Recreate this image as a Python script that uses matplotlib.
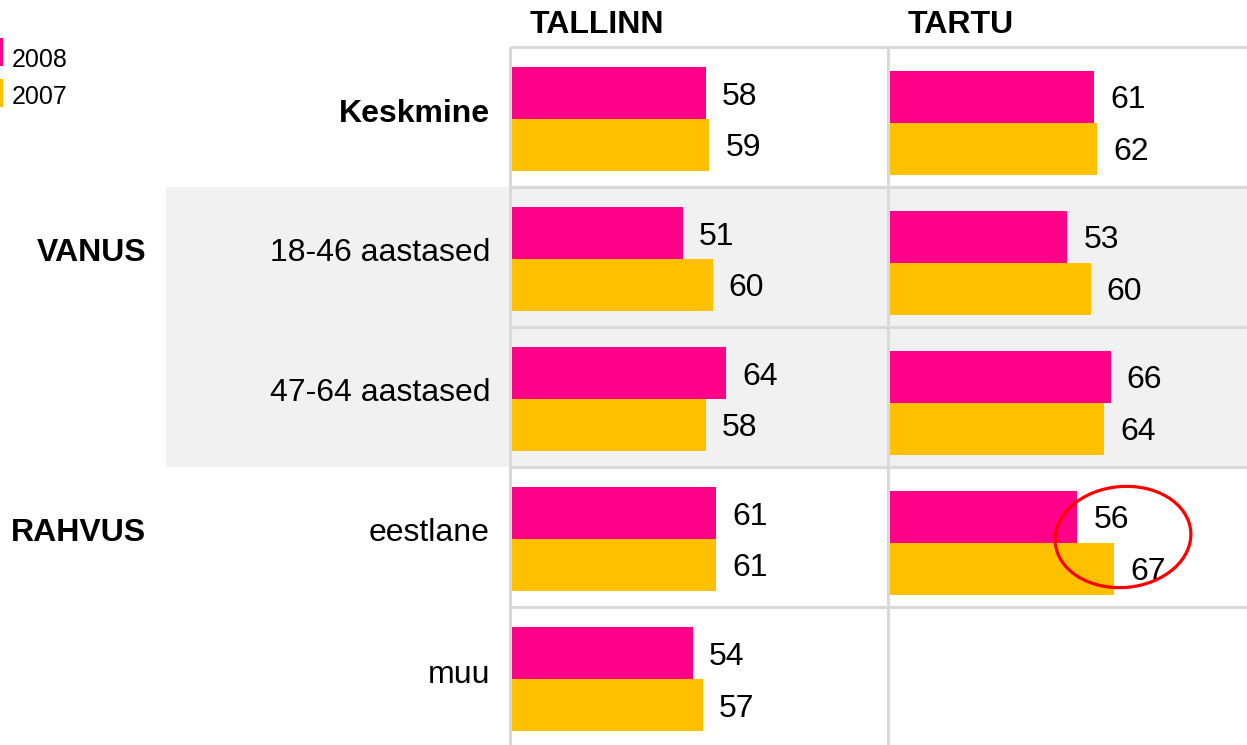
import matplotlib
matplotlib.use("Agg")
import matplotlib.pyplot as plt
from matplotlib.patches import Rectangle, Ellipse
import numpy as np

plt.rcParams['font.family'] = ['Liberation Sans', 'DejaVu Sans']

# data
kategooriad = ["Keskmine", "18-46 aastased", "47-64 aastased", "eestlane", "muu"]
tallinn_2008 = [58, 51, 64, 61, 54]
tallinn_2007 = [59, 60, 58, 61, 57]
tartu_2008 = [61, 53, 66, 56, None]
tartu_2007 = [62, 60, 64, 67, None]
aastad = ["2008", "2007"]
linnad = ["TALLINN", "TARTU"]

roosa = "#FF0088"
kollane = "#FFC000"
joon = "#D9D9D9"
fs = 23

W, H = 1247, 745
fig = plt.figure(figsize=(W / 100, H / 100), dpi=100)

# taust pikslites
bg = fig.add_axes([0, 0, 1, 1])
bg.set_xlim(0, W)
bg.set_ylim(H, 0)
bg.axis("off")
bg.add_patch(Rectangle((166, 187), W - 166, 280, color="#F1F1F1", lw=0, zorder=0))
bg.hlines([47, 187, 327, 467, 607], 510, W, color=joon, lw=2.2, zorder=1)
bg.vlines([510, 888], 47, H, color=joon, lw=2.2, zorder=1)

# legend
bg.add_patch(Rectangle((0, 38), 3, 28, color=roosa, lw=0))
bg.add_patch(Rectangle((0, 79), 3, 28, color=kollane, lw=0))
bg.text(12, 60, aastad[0], fontsize=18, va="center", ha="left")
bg.text(12, 97, aastad[1], fontsize=18, va="center", ha="left")

# pealkirjad
bg.text(530, 25, linnad[0], fontsize=fs, fontweight="bold", va="center", ha="left")
bg.text(908, 25, linnad[1], fontsize=fs, fontweight="bold", va="center", ha="left")

# ridade nimed
rea_y = [114, 253, 393, 533, 675]
for i, k in enumerate(kategooriad):
    bg.text(490, rea_y[i], k, fontsize=fs, va="center", ha="right",
            fontweight="bold" if i == 0 else "normal")
bg.text(146, 253, "VANUS", fontsize=fs, fontweight="bold", va="center", ha="right")
bg.text(146, 533, "RAHVUS", fontsize=fs, fontweight="bold", va="center", ha="right")

px_per = 3.345
top, bottom = 47, 747


def tulp(left, right, v08, v07, nihe):
    ax = fig.add_axes([left / W, (H - bottom) / H, (right - left) / W, (bottom - top) / H])
    ax.patch.set_alpha(0)
    ax.set_xlim(0, (right - left) / px_per)
    ax.set_ylim(5, 0)
    ax.axis("off")
    rows = np.arange(len(v08))
    a = np.array([np.nan if v is None else v for v in v08], dtype=float)
    b = np.array([np.nan if v is None else v for v in v07], dtype=float)
    ax.barh(rows + 0.329 + nihe, a, height=0.371, color=roosa, lw=0)
    ax.barh(rows + 0.700 + nihe, b, height=0.371, color=kollane, lw=0)
    gap = 16 / px_per
    dy = 3.5 / 140
    for r in rows:
        if not np.isnan(a[r]):
            ax.text(a[r] + gap, r + 0.329 + nihe + dy, str(int(a[r])), fontsize=fs, va="center", ha="left")
        if not np.isnan(b[r]):
            ax.text(b[r] + gap, r + 0.700 + nihe + dy, str(int(b[r])), fontsize=fs, va="center", ha="left")
    return ax


tulp(512, 887, tallinn_2008, tallinn_2007, 0.0)
tulp(890, W, tartu_2008, tartu_2007, 0.028)

# punane ring, pealmine kiht
top_ax = fig.add_axes([0, 0, 1, 1])
top_ax.set_xlim(0, W)
top_ax.set_ylim(H, 0)
top_ax.axis("off")
top_ax.patch.set_alpha(0)
top_ax.add_patch(Ellipse((1123, 537), 136, 101, angle=-5, fill=False, color="#FF0000", lw=2.3))

fig.savefig("out.png", dpi=100)
